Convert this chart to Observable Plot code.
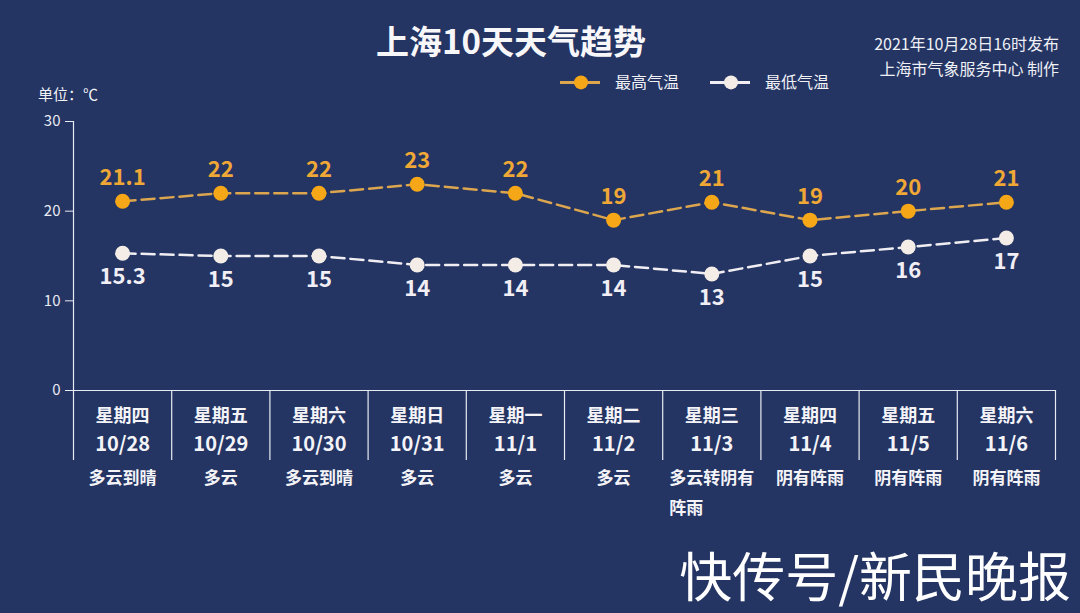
<!DOCTYPE html>
<html>
<head>
<meta charset="utf-8">
<script src="https://cdn.jsdelivr.net/npm/d3@7"></script>
<script src="https://cdn.jsdelivr.net/npm/@observablehq/plot@0.6"></script>
<style>
  html, body { margin: 0; padding: 0; background: #243463; }
  #wrap { position: relative; width: 1080px; height: 613px; background: #243463; overflow: hidden;
          font-family: "Noto Sans CJK SC", "Noto Sans", sans-serif; color: #f2f2f6; }
  .abs { position: absolute; white-space: nowrap; line-height: 1.2; }
  #title { left: 511px; top: 41px; transform: translate(-50%, -50%); font-size: 33px; font-weight: 700; color: #f7f7fa; }
  .note { right: 21px; font-size: 16px; transform: translateY(-50%); color: #eef0f5; }
  #unit { left: 38px; top: 94px; font-size: 15px; transform: translateY(-50%); }
  #legend { left: 560px; top: 82px; transform: translateY(-50%); display: flex; align-items: center; font-size: 16px; }
  #legend .item { display: flex; align-items: center; margin-right: 31px; }
  #legend svg { margin-right: 15px; }
  #mark { right: 9px; top: 574px; transform: translateY(-50%); font-size: 53px; line-height: 1.1; color: #ffffff; }
  #chart { position: absolute; left: 0; top: 0; }
</style>
</head>
<body>
<div id="wrap">
  <div id="chart"></div>
  <div id="title" class="abs">上海10天天气趋势</div>
  <div class="abs note" style="top:44px">2021年10月28日16时发布</div>
  <div class="abs note" style="top:69px">上海市气象服务中心 制作</div>
  <div id="unit" class="abs">单位：℃</div>
  <div id="legend" class="abs"></div>
  <div id="mark" class="abs">快传号/新民晚报</div>
</div>
<script>
const weekdays = ["星期四","星期五","星期六","星期日","星期一","星期二","星期三","星期四","星期五","星期六"];
const dates = ["10/28","10/29","10/30","10/31","11/1","11/2","11/3","11/4","11/5","11/6"];
const weather1 = ["多云到晴","多云","多云到晴","多云","多云","多云","多云转阴有","阴有阵雨","阴有阵雨","阴有阵雨"];
const weather2 = ["","","","","","","阵雨","","",""];
const high = [21.1, 22, 22, 23, 22, 19, 21, 19, 20, 21];
const low = [15.3, 15, 15, 14, 14, 14, 13, 15, 16, 17];
const seriesNames = ["最高气温", "最低气温"];
const yTicks = [0, 10, 20, 30];

const lineHigh = "#dca64e", dotHigh = "#f5a717", textHigh = "#efa736";
const lineLow = "#f0eef2", dotLow = "#f4ede7", textLow = "#f1eff5";
const axisColor = "#e9ebf2";

const data = dates.map((d, i) => ({i, date: d, week: weekdays[i], w1: weather1[i], w2: weather2[i], high: high[i], low: low[i]}));
const bounds = dates.map((d, i) => i - 0.5).concat([dates.length - 0.5]);
const font = "Noto Sans CJK SC";

const chart = Plot.plot({
  width: 1080,
  height: 613,
  marginLeft: 73,
  marginRight: 25,
  marginTop: 121,
  marginBottom: 223,
  style: {background: "transparent", color: axisColor, fontFamily: font, fontSize: "15px"},
  x: {domain: [-0.5, dates.length - 0.5], axis: null},
  y: {domain: [0, 30], ticks: yTicks, tickSize: 8, tickPadding: 5, label: null},
  marks: [
    Plot.ruleY([0], {stroke: axisColor, strokeWidth: 1.2}),
    Plot.ruleX(bounds.slice(0, 1), {stroke: axisColor, strokeWidth: 1.2, insetBottom: -70}),
    Plot.ruleX(bounds.slice(1), {stroke: axisColor, strokeWidth: 1.2, insetTop: 269, insetBottom: -70}),
    Plot.line(data, {x: "i", y: "high", stroke: lineHigh, strokeWidth: 2.5, strokeDasharray: "13,6"}),
    Plot.line(data, {x: "i", y: "low", stroke: lineLow, strokeWidth: 2.5, strokeDasharray: "13,6"}),
    Plot.dot(data, {x: "i", y: "high", r: 7.5, fill: dotHigh, stroke: null}),
    Plot.dot(data, {x: "i", y: "low", r: 7.5, fill: dotLow, stroke: null}),
    Plot.text(data, {x: "i", y: "high", text: d => String(d.high), dy: -23, fill: textHigh, fontSize: 22, fontWeight: 700, fontFamily: font}),
    Plot.text(data, {x: "i", y: "low", text: d => String(d.low), dy: 24, fill: textLow, fontSize: 22, fontWeight: 700, fontFamily: font}),
    Plot.text(data, {x: "i", frameAnchor: "bottom", text: "week", dy: 31, fill: "#f4f4f8", fontSize: 18, fontWeight: 700, fontFamily: font}),
    Plot.text(data, {x: "i", frameAnchor: "bottom", text: "date", dy: 60, fill: "#f4f4f8", fontSize: 20, fontWeight: 700, fontFamily: font}),
    Plot.text(data, {x: "i", frameAnchor: "bottom", text: "w1", dy: 93, fill: "#f4f4f8", fontSize: 17, fontWeight: 700, fontFamily: font}),
    Plot.text(data.filter(d => d.w2), {x: "i", frameAnchor: "bottom", text: "w2", dy: 123, dx: -42.5, textAnchor: "start", fill: "#f4f4f8", fontSize: 17, fontWeight: 700, fontFamily: font})
  ]
});
document.getElementById("chart").appendChild(chart);

// legend
const legend = document.getElementById("legend");
[[lineHigh, dotHigh], [lineLow, dotLow]].forEach(([lc, dc], k) => {
  const item = document.createElement("div");
  item.className = "item";
  item.innerHTML = `<svg width="40" height="16"><line x1="0" y1="8" x2="40" y2="8" stroke="${lc}" stroke-width="3"/><circle cx="21" cy="8" r="7" fill="${dc}"/></svg><span>${seriesNames[k]}</span>`;
  legend.appendChild(item);
});
</script>
</body>
</html>
